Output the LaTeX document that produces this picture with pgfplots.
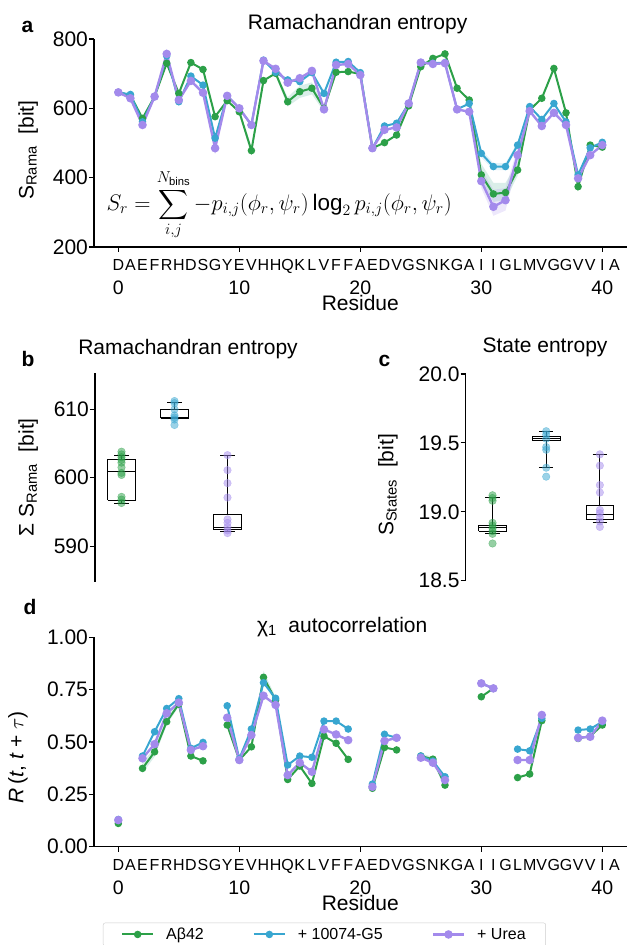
\RequirePackage{fix-cm}
\documentclass[border=0pt]{standalone}
\usepackage{fontspec}
\setmainfont{Liberation Sans}
\usepackage{amsmath}
\usepackage{pgfplots}
\usepackage{pgfplotstable}
\pgfplotsset{compat=1.18}

\definecolor{cg}{RGB}{44,160,72}
\definecolor{cb}{RGB}{56,166,208}
\definecolor{cp}{RGB}{163,138,236}

\newcommand{\fs}[1]{\fontsize{#1}{#1}\selectfont}

% residue, Abeta42, +10074-G5, +Urea
\pgfplotstableread{
r g b p
0 646 646 646
1 638 640 629
2 571 561 552
3 634 634 634
4 730 751 757
5 643 619 624
6 732 693 679
7 712 667 645
8 576 514 485
9 622 636 636
10 590 600 600
11 478 552 552
12 680 739 737
13 701 704 714
14 619 682 674
15 648 677 687
16 658 703 708
17 600 643 597
18 704 733 725
19 706 735 728
20 699 703 696
21 485 485 485
22 501 549 538
23 523 557 545
24 607 614 614
25 720 732 732
26 744 730 728
27 757 732 730
28 658 597 597
29 624 614 590
30 408 470 390
31 353 432 316
32 357 432 335
33 422 494 465
34 595 605 592
35 629 568 549
36 715 614 587
37 587 561 552
38 374 408 398
39 494 486 465
40 488 502 494
}\rama

\pgfplotstableread{
r g b p
0 0.111 0.130 0.127
1 nan nan nan
2 0.374 0.433 0.422
3 0.453 0.549 0.490
4 0.597 0.660 0.637
5 0.681 0.707 0.688
6 0.433 0.470 0.462
7 0.410 0.498 0.480
8 nan nan nan
9 0.581 0.673 0.616
10 0.414 0.420 0.414
11 0.477 0.562 0.533
12 0.809 0.783 0.721
13 0.700 0.709 0.677
14 0.321 0.390 0.342
15 0.385 0.433 0.401
16 0.302 0.427 0.358
17 0.528 0.600 0.560
18 0.494 0.600 0.536
19 0.417 0.562 0.509
20 nan nan nan
21 0.279 0.299 0.286
22 0.474 0.537 0.505
23 0.462 0.520 0.520
24 nan nan nan
25 0.433 0.433 0.425
26 0.418 0.409 0.401
27 0.294 0.334 0.318
28 nan nan nan
29 nan nan nan
30 0.716 0.780 0.780
31 0.756 0.756 0.756
32 nan nan nan
33 0.330 0.466 0.414
34 0.347 0.458 0.414
35 0.602 0.613 0.629
36 nan nan nan
37 nan nan nan
38 0.517 0.557 0.520
39 0.528 0.562 0.525
40 0.581 0.597 0.602
}\autocorr

\pgfplotsset{
  panel/.style={
    scale only axis,
    anchor=south west,
    axis x line*=bottom, axis y line*=left,
    axis line style={line width=1.3pt,-},
    tick style={black, line width=1.1pt},
    major tick length=5pt,
    tick align=outside,
    yticklabel style={font=\fs{21}, inner xsep=1pt},
    /pgf/number format/assume math mode=true,
    every axis title/.style={at={(0.5,1)}, anchor=base, font=\fs{21}},
    every axis label/.append style={font=\fs{21}, inner sep=0pt},
    clip=false,
  },
  residues/.style={
    xmin=-2, xmax=42,
    xtick={0,10,20,30,40},
    xticklabel style={anchor=base, yshift=-43pt, font=\fs{19.5}, inner sep=0pt},
    extra x ticks={0,...,41},
    extra x tick labels={D,A,E,F,R,H,D,S,G,Y,E,V,H,H,Q,K,L,V,F,F,A,E,D,V,G,S,N,K,G,A,I,I,G,L,M,V,G,G,V,V,I,A},
    extra x tick style={tick style={draw=none}, xticklabel style={yshift=24pt, font=\fs{16}}},
    xlabel={Residue},
  },
  gline/.style={cg, line width=2pt, mark=*, mark size=2.7pt, mark options={solid}},
  bline/.style={cb, line width=2pt, mark=*, mark size=2.7pt, mark options={solid}},
  pline/.style={cp, line width=2.4pt, mark=*, mark size=3pt, mark options={solid}},
  gband/.style={fill=cg!55!cb, fill opacity=0.18, draw=none, forget plot},
  bband/.style={fill=cb, fill opacity=0.15, draw=none, forget plot},
  pband/.style={fill=cp, fill opacity=0.2, draw=none, forget plot},
  dots/.style={only marks, mark=*, mark size=3.8pt, opacity=0.5, forget plot},
  box/.style={black, line width=0.8pt, no marks, forget plot},
}

\begin{document}
\begin{tikzpicture}
\path[use as bounding box] (0,0) rectangle (627pt,945pt);

% ---- a: Ramachandran entropy per residue
\begin{axis}[panel, residues,
  at={(94.1pt,698pt)}, width=532.4pt, height=208pt,
  ymin=200, ymax=800, ytick={200,400,600,800},
  title={Ramachandran entropy}, title style={at={(0.495,1)}, yshift=9pt},
  ylabel={S\textsubscript{Rama}~~[bit]},
  ylabel style={at={(axis description cs:-0.124,0.466)}, anchor=center},
  xlabel style={at={(axis description cs:0.5,-0.307)}, anchor=base},
]
\addplot[gband] coordinates {(10,595) (11,490) (12,688) (12,672) (11,465) (10,585)} -- cycle;
\addplot[gband] coordinates {(13,707) (14,632) (15,665) (16,675) (17,610) (17,590) (16,640) (15,630) (14,605) (13,695)} -- cycle;
\addplot[gband] coordinates {(29,630) (30,440) (31,385) (32,385) (33,445) (34,600) (34,590) (33,405) (32,335) (31,330) (30,395) (29,618)} -- cycle;
\addplot[bband] coordinates {(29,620) (30,482) (31,442) (32,442) (33,502) (34,610) (34,600) (33,486) (32,422) (31,422) (30,458) (29,608)} -- cycle;
\addplot[pband] coordinates {(29,598) (30,425) (31,365) (32,370) (33,485) (34,600) (34,585) (33,440) (32,305) (31,290) (30,370) (29,585)} -- cycle;
\addplot[gline] table[x=r,y=g]{\rama};
\addplot[bline] table[x=r,y=b]{\rama};
\addplot[pline] table[x=r,y=p]{\rama};
\node[font=\fs{22.5}, inner sep=0pt] at (axis cs:13.3,321)
  {$\displaystyle S_r = \sum_{i,j}^{N_\mathrm{bins}} -p_{i,j}(\phi_r,\psi_r)\log_2 p_{i,j}(\phi_r,\psi_r)$};
\end{axis}

% ---- b: summed Ramachandran entropy
\begin{axis}[panel, axis x line=none, unbounded coords=jump,
  at={(95pt,363.3pt)}, width=159pt, height=208.7pt,
  xmin=-0.5, xmax=2.5, ymin=584.8, ymax=615.3, ytick={590,600,610},
  title={Ramachandran entropy}, title style={at={(0.585,1)}, yshift=18pt},
  ylabel={Σ S\textsubscript{Rama}~~[bit]},
  ylabel style={at={(axis description cs:-0.42,0.5)}, anchor=center},
]
\addplot[dots, cg] coordinates {(0,603.8) (0,603.4) (0,603.0) (0,602.6) (0,602.2) (0,601.5) (0,600.7) (0,600.4) (0,597.2) (0,596.8) (0,596.3)};
\addplot[dots, cb] coordinates {(1,611.2) (1,610.9) (1,610.0) (1,609.1) (1,608.8) (1,608.5) (1,607.7)};
\addplot[dots, cp] coordinates {(2,603.3) (2,601.1) (2,599.2) (2,597.1) (2,593.9) (2,593.4) (2,592.8) (2,592.3) (2,591.9)};
% box: quartiles, median, whiskers with caps
\addplot[box] coordinates {(-0.26,596.7) (0.26,596.7) (0.26,602.7) (-0.26,602.7) (-0.26,596.7) (nan,nan)
  (-0.26,600.85) (0.26,600.85) (nan,nan) (0,602.7) (0,603.2) (nan,nan) (-0.135,603.2) (0.135,603.2) (nan,nan)
  (0,596.7) (0,596.3) (nan,nan) (-0.135,596.3) (0.135,596.3)};
\addplot[box] coordinates {(0.74,608.7) (1.26,608.7) (1.26,610.0) (0.74,610.0) (0.74,608.7) (nan,nan)
  (0.74,608.8) (1.26,608.8) (nan,nan) (1,610.0) (1,611.0) (nan,nan) (0.865,611.0) (1.135,611.0) (nan,nan)
  (0.865,608.7) (1.135,608.7)};
\addplot[box] coordinates {(1.74,592.4) (2.26,592.4) (2.26,594.6) (1.74,594.6) (1.74,592.4) (nan,nan)
  (1.74,592.7) (2.26,592.7) (nan,nan) (2,594.6) (2,603.3) (nan,nan) (1.865,603.3) (2.135,603.3) (nan,nan)
  (2,592.4) (2,592.1) (nan,nan) (1.865,592.1) (2.135,592.1)};
\end{axis}

% ---- c: state entropy
\begin{axis}[panel, axis x line=none, unbounded coords=jump,
  at={(465.7pt,364.3pt)}, width=161pt, height=206.7pt,
  xmin=-0.5, xmax=2.5, ymin=18.5, ymax=20.0, ytick={18.5,19,19.5,20},
  yticklabel style={/pgf/number format/.cd, fixed, fixed zerofill, precision=1},
  title={State entropy}, title style={at={(0.4925,1)}, yshift=21pt},
  ylabel={S\textsubscript{States}~~[bit]},
  ylabel style={at={(axis description cs:-0.483,0.463)}, anchor=center},
]
\addplot[dots, cg] coordinates {(0,19.12) (0,19.10) (0,19.08) (0,18.92) (0,18.90) (0,18.88) (0,18.86) (0,18.84) (0,18.77)};
\addplot[dots, cb] coordinates {(1,19.585) (1,19.56) (1,19.53) (1,19.47) (1,19.45) (1,19.32) (1,19.255)};
\addplot[dots, cp] coordinates {(2,19.417) (2,19.335) (2,19.194) (2,19.14) (2,19.013) (2,18.99) (2,18.96) (2,18.93) (2,18.89)};
\addplot[box] coordinates {(-0.26,18.861) (0.26,18.861) (0.26,18.899) (-0.26,18.899) (-0.26,18.861) (nan,nan)
  (-0.26,18.885) (0.26,18.885) (nan,nan) (0,18.899) (0,19.105) (nan,nan) (-0.135,19.105) (0.135,19.105) (nan,nan)
  (0,18.861) (0,18.844) (nan,nan) (-0.135,18.844) (0.135,18.844)};
\addplot[box] coordinates {(0.74,19.519) (1.26,19.519) (1.26,19.545) (0.74,19.545) (0.74,19.519) (nan,nan)
  (0.74,19.53) (1.26,19.53) (nan,nan) (1,19.545) (1,19.581) (nan,nan) (0.865,19.581) (1.135,19.581) (nan,nan)
  (1,19.519) (1,19.323) (nan,nan) (0.865,19.323) (1.135,19.323)};
\addplot[box] coordinates {(1.74,18.946) (2.26,18.946) (2.26,19.047) (1.74,19.047) (1.74,18.946) (nan,nan)
  (1.74,18.984) (2.26,18.984) (nan,nan) (2,19.047) (2,19.417) (nan,nan) (1.865,19.417) (2.135,19.417) (nan,nan)
  (2,18.946) (2,18.924) (nan,nan) (1.865,18.924) (2.135,18.924)};
\end{axis}

% ---- d: chi1 autocorrelation
\begin{axis}[panel, residues,
  at={(94.1pt,98.3pt)}, width=532.4pt, height=209.4pt,
  ymin=0, ymax=1, ytick={0,0.25,0.5,0.75,1},
  yticklabel style={/pgf/number format/.cd, fixed, fixed zerofill, precision=2},
  unbounded coords=jump,
  title={χ\textsubscript{1}~~autocorrelation}, title style={at={(0.466,1)}, yshift=5pt},
  ylabel={\textit{R}\,(\textit{t}, \textit{t} + $\tau$)},
  ylabel style={at={(axis description cs:-0.143,0.428)}, anchor=center},
  xlabel style={at={(axis description cs:0.5,-0.307)}, anchor=base},
  legend columns=3,
  legend cell align=left,
  legend style={at={(0.0167,-0.363)}, anchor=north west, draw=black!20,
    rounded corners=2pt, font=\fs{16}, inner xsep=18pt, inner ysep=3pt,
    /tikz/every odd column/.append style={column sep=10pt},
    /tikz/every even column/.append style={column sep=47pt}},
  legend image code/.code={\draw[mark repeat=2, mark phase=2, #1] plot coordinates {(0pt,0pt) (15.5pt,0pt) (31pt,0pt)};},
]
\addplot[gband] coordinates {(2,0.40) (3,0.475) (4,0.615) (5,0.695) (5,0.67) (4,0.58) (3,0.43) (2,0.35)} -- cycle;
\addplot[gband] coordinates {(11,0.49) (12,0.84) (13,0.715) (13,0.69) (12,0.78) (11,0.465)} -- cycle;
\addplot[gband] coordinates {(25,0.445) (26,0.43) (27,0.31) (27,0.28) (26,0.40) (25,0.42)} -- cycle;
\addplot[gline] table[x=r,y=g]{\autocorr};
\addplot[bline] table[x=r,y=b]{\autocorr};
\addplot[pline] table[x=r,y=p]{\autocorr};
\legend{Aβ42, + 10074-G5, + Urea}
\end{axis}

\node[anchor=base west, font=\bfseries\fs{21}] at (18pt,912pt) {a};
\node[anchor=base west, font=\bfseries\fs{21}] at (18pt,578pt) {b};
\node[anchor=base west, font=\bfseries\fs{21}] at (375pt,578pt) {c};
\node[anchor=base west, font=\bfseries\fs{21}] at (20pt,330pt) {d};
\end{tikzpicture}
\end{document}
